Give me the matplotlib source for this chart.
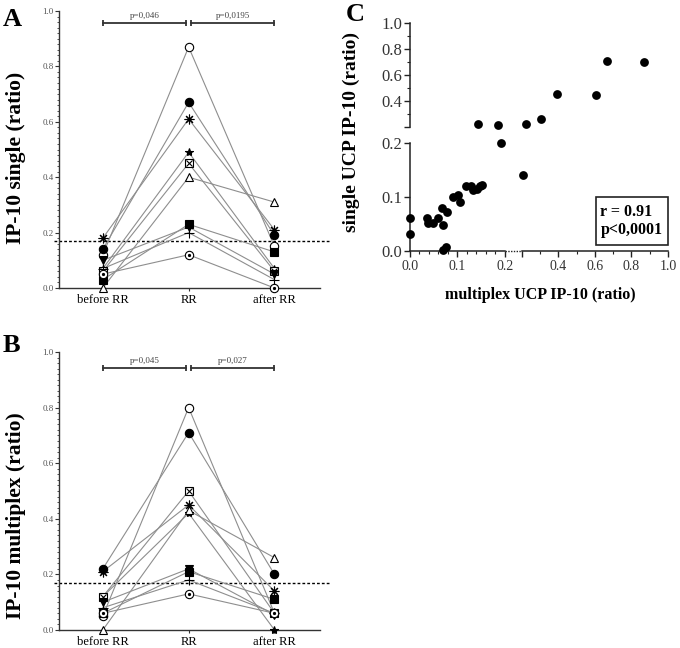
import numpy as np
import matplotlib
matplotlib.use("Agg")
import matplotlib.pyplot as plt
from matplotlib.ticker import FixedLocator, MultipleLocator
from matplotlib.patches import Rectangle

plt.rcParams['font.family'] = ['Liberation Serif', 'DejaVu Serif']

# ---------------- data ----------------
times = ['before RR', 'RR', 'after RR']
# patient order: open circle, filled circle, asterisk, star, crossed square,
# open triangle, filled square, down triangle, plus, circle-dot
single_before = [0.12, 0.14, 0.18, 0.07, 0.06, 0.00, 0.03, 0.10, 0.07, 0.05]
single_rr     = [0.87, 0.67, 0.61, 0.49, 0.45, 0.40, 0.23, 0.22, 0.20, 0.12]
single_after  = [0.15, 0.19, 0.21, 0.07, 0.06, 0.31, 0.13, 0.05, 0.03, 0.00]

multi_before = [0.05, 0.22, 0.21, 0.12, 0.12, 0.00, 0.06, 0.10, 0.08, 0.06]
multi_rr     = [0.80, 0.71, 0.45, 0.42, 0.50, 0.43, 0.21, 0.22, 0.18, 0.13]
multi_after  = [0.06, 0.20, 0.14, 0.00, 0.06, 0.26, 0.11, 0.055, 0.06, 0.06]

single_pvals = ['p=0,046', 'p=0,0195']
multi_pvals = ['p=0,045', 'p=0,027']
cutoff = 0.17

scatter_multi = [0.143, 0.185, 0.222, 0.304, 0.393, 0.606, 0.668, 0.868,
                 0.192, 0.204,
                 0.0, 0.0, 0.035, 0.038, 0.049, 0.060, 0.067, 0.069, 0.078,
                 0.070, 0.076, 0.091, 0.102, 0.105, 0.119, 0.128, 0.133,
                 0.142, 0.147, 0.152]
scatter_single = [0.221, 0.213, 0.221, 0.262, 0.451, 0.446, 0.710, 0.700,
                  0.200, 0.141,
                  0.061, 0.031, 0.061, 0.051, 0.051, 0.061, 0.080, 0.048, 0.072,
                  0.002, 0.008, 0.100, 0.104, 0.091, 0.120, 0.120, 0.113,
                  0.114, 0.120, 0.122]
r_text = 'r = 0.91'
p_text = 'p<0,0001'

MARKERS = [
    [('o', 'white', 6)],
    [('o', 'black', 6)],
    [((8, 2, 0), 'black', 7)],
    [('*', 'black', 6)],
    [('s', 'white', 6), ('x', 'black', 5)],
    [('^', 'white', 6)],
    [('s', 'black', 6)],
    [('v', 'black', 6)],
    [('+', 'black', 7)],
    [('o', 'white', 6), ('.', 'black', 3)],
]

W, H = 680, 648
fig = plt.figure(figsize=(W / 100, H / 100), dpi=100)

axA = fig.add_axes([59 / W, 1 - 288 / H, 261 / W, 277 / H])
axB = fig.add_axes([59 / W, 1 - 630 / H, 261 / W, 278 / H])
axC = fig.add_axes([410 / W, 1 - 251 / H, 258 / W, 228 / H])

axis_col = '#333333'


def line_panel(ax, before, rr, after, ylabel, pvals, bracket_y, label_y):
    x = np.arange(len(times))
    for i in range(len(before)):
        ys = [before[i], rr[i], after[i]]
        ax.plot(x, ys, color='#8e8e8e', lw=0.8, zorder=2, clip_on=False)
        for m, fc, ms in MARKERS[i]:
            ax.plot(x, ys, ls='none', marker=m, mfc=fc, mec='black', ms=ms,
                    mew=0.8, zorder=3, clip_on=False)
    ax.axhline(cutoff, xmin=-0.02, xmax=1.04, color='black', ls=(0, (2, 1.5)),
               lw=1.0, clip_on=False, zorder=1)
    ax.set_xlim(-0.51, 2.53)
    ax.set_ylim(0, 1.0)
    ax.set_xticks(x)
    ax.set_xticklabels(times, fontsize=9)
    ax.set_yticks(np.arange(0, 1.01, 0.2))
    ax.set_yticklabels([f'{v:.1f}' for v in np.arange(0, 1.01, 0.2)],
                       fontsize=6.5, color='#555555')
    ax.yaxis.set_minor_locator(MultipleLocator(0.02))
    ax.tick_params(axis='y', which='major', length=3, width=0.8, pad=1,
                   colors=axis_col, labelcolor='#555555')
    ax.tick_params(axis='y', which='minor', length=1.8, width=0.6, colors=axis_col)
    ax.tick_params(axis='x', length=2.5, width=0.8, pad=2, colors=axis_col,
                   labelcolor='black')
    for s in ['top', 'right']:
        ax.spines[s].set_visible(False)
    for s in ['left', 'bottom']:
        ax.spines[s].set_color(axis_col)
        ax.spines[s].set_linewidth(1.0)
    ax.set_ylabel(ylabel, fontsize=15.5, fontweight='bold')
    ax.yaxis.set_label_coords(-0.125, label_y)
    # significance brackets
    for (x0, x1), ptxt in zip([(0, 0.975), (1.025, 2)], pvals):
        ax.plot([x0, x1], [bracket_y, bracket_y], color='#333333', lw=1.3,
                marker='|', ms=5, mew=1.3, clip_on=False)
        ax.text((x0 + x1) / 2, bracket_y + 0.012, ptxt, ha='center', va='bottom',
                fontsize=6.5, color='#444444')


line_panel(axA, single_before, single_rr, single_after,
           'IP-10 single (ratio)', single_pvals, 0.957, 0.47)
line_panel(axB, multi_before, multi_rr, multi_after,
           'IP-10 multiplex (ratio)', multi_pvals, 0.942, 0.41)

# ---------------- panel C: broken axes via function scales ----------------
XL, XG, XU = 475.0, 17.0, 183.0
YL, YG, YU = 540.0, 16.0, 130.0
BR = 0.2


def make_funcs(kl, gap, ku):
    lo = BR * kl

    def fwd(v):
        v = np.asarray(v, dtype=float)
        return np.where(v <= BR, v * kl, lo + gap + (v - BR) * ku)

    def inv(u):
        u = np.asarray(u, dtype=float)
        return np.where(u <= lo, u / kl,
                        np.where(u < lo + gap, BR, BR + (u - lo - gap) / ku))
    return fwd, inv


fx, ix = make_funcs(XL, XG, XU)
fy, iy = make_funcs(YL, YG, YU)
axC.set_xscale('function', functions=(fx, ix))
axC.set_yscale('function', functions=(fy, iy))
axC.set_xlim(0, 1.0)
axC.set_ylim(0, 1.0)

axC.scatter(scatter_multi, scatter_single, s=40, color='black', zorder=3,
            clip_on=False, linewidths=0)

for s in axC.spines.values():
    s.set_visible(False)

xa = float(fx(BR) / fx(1.0))
xb = float((fx(BR) + XG) / fx(1.0))
ya = float(fy(BR) / fy(1.0))
yb = float((fy(BR) + YG) / fy(1.0))
lk = dict(transform=axC.transAxes, color='#222222', lw=1.1, clip_on=False)
axC.plot([0, xa], [0, 0], **lk)
axC.plot([xa, xb], [0, 0], transform=axC.transAxes, color='#222222', lw=1.0,
         ls=(0, (1, 1)), clip_on=False)
axC.plot([xb, 1], [0, 0], **lk)
axC.plot([0, 0], [0, ya], **lk)
axC.plot([0, 0], [yb, 1], **lk)

eps = 1e-6
xt = [0.0, 0.1, 0.2, 0.2 + eps, 0.4, 0.6, 0.8, 1.0]
xtl = ['0.0', '0.1', '0.2', '', '0.4', '0.6', '0.8', '1.0']
yt = [0.0, 0.1, 0.2, 0.2 + eps, 0.4, 0.6, 0.8, 1.0]
ytl = ['0.0', '0.1', '0.2', '', '0.4', '0.6', '0.8', '1.0']
axC.xaxis.set_major_locator(FixedLocator(xt))
axC.set_xticklabels(xtl, fontsize=10, color='#333333')
axC.yaxis.set_major_locator(FixedLocator(yt))
axC.set_yticklabels(ytl, fontsize=12, color='#333333')
axC.xaxis.set_minor_locator(FixedLocator(
    [0.02, 0.04, 0.06, 0.08, 0.12, 0.14, 0.16, 0.18, 0.3, 0.5, 0.7, 0.9]))
axC.yaxis.set_minor_locator(FixedLocator([0.3, 0.5, 0.7, 0.9]))
axC.tick_params(which='major', length=4.5, width=1.0, pad=2, colors='#222222',
                labelcolor='#333333')
axC.tick_params(which='minor', length=2.5, width=0.8, colors='#222222')
axC.tick_params(axis='y', pad=1)

axC.set_ylabel('single UCP IP-10 (ratio)', fontsize=14, fontweight='bold')
axC.yaxis.set_label_coords(-0.195, 0.52)
axC.set_xlabel('multiplex UCP IP-10 (ratio)', fontsize=11.5, fontweight='bold')
axC.xaxis.set_label_coords(0.504, -0.16)

axC.add_patch(Rectangle((0.72, 0.026), 0.28, 0.211, transform=axC.transAxes,
                        fill=False, ec='#222222', lw=1.2, clip_on=False))
axC.text(0.738, 0.171, r_text, transform=axC.transAxes, fontsize=11.5,
         fontweight='bold', va='center', ha='left')
axC.text(0.738, 0.092, p_text, transform=axC.transAxes, fontsize=11.5,
         fontweight='bold', va='center', ha='left')

# panel letters
fig.text(3 / W, 1 - 8 / H, 'A', fontsize=19, fontweight='bold', va='top')
fig.text(3 / W, 1 - 334 / H, 'B', fontsize=19, fontweight='bold', va='top')
fig.text(346 / W, 1 - 3 / H, 'C', fontsize=19, fontweight='bold', va='top')

fig.savefig('out.png', dpi=100)
